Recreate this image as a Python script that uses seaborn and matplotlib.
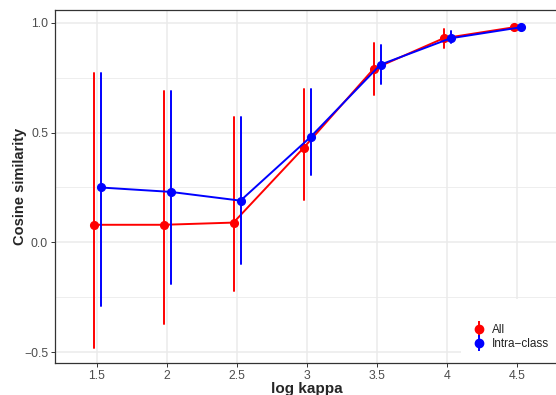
import numpy as np
import pandas as pd
import matplotlib
matplotlib.use("Agg")
import matplotlib.pyplot as plt
import seaborn as sns
from matplotlib.lines import Line2D
from matplotlib.ticker import FixedLocator, FuncFormatter

# values
kappa = ["1.5", "2", "2.5", "3", "3.5", "4", "4.5"]
groups = ["All", "Intra\u2212class"]

all_mean = [0.08, 0.08, 0.09, 0.43, 0.79, 0.93, 0.98]
all_low = [-0.48, -0.37, -0.22, 0.195, 0.67, 0.885, 0.975]
all_high = [0.77, 0.69, 0.57, 0.70, 0.91, 0.972, 0.985]

intra_mean = [0.25, 0.23, 0.19, 0.48, 0.81, 0.93, 0.98]
intra_low = [-0.29, -0.19, -0.10, 0.305, 0.72, 0.908, 0.975]
intra_high = [0.77, 0.69, 0.57, 0.70, 0.90, 0.965, 0.985]

colors = {"All": "#FF0000", "Intra\u2212class": "#0000FF"}

# long table: low / mean / high per point, median picks the mean,
# min-max gives the interval
rows = []
for g, lo, mid, hi in [(groups[0], all_low, all_mean, all_high),
                       (groups[1], intra_low, intra_mean, intra_high)]:
    for k, a, b, c in zip(kappa, lo, mid, hi):
        for v in (a, b, c):
            rows.append({"kappa": k, "group": g, "value": v})
df = pd.DataFrame(rows)

sns.set_style("white")
plt.rcParams["font.family"] = ["Liberation Sans", "DejaVu Sans"]

fig = plt.figure(figsize=(5.56, 3.95), dpi=100)
ax = fig.add_axes([55 / 556, 32 / 395, 504 / 556, 353 / 395])

sns.pointplot(data=df, x="kappa", y="value", hue="group", order=kappa,
              hue_order=groups, palette=colors, estimator=np.median,
              errorbar=lambda v: (v.min(), v.max()), dodge=0.1,
              markers="o", markersize=5.5, linewidth=1.4,
              err_kws={"linewidth": 1.4}, legend=False, ax=ax)

ax.set_xlim(-0.6, 6.6)
ax.set_ylim(-0.55, 1.059)
ax.yaxis.set_major_locator(FixedLocator([-0.5, 0.0, 0.5, 1.0]))
ax.yaxis.set_minor_locator(FixedLocator([-0.25, 0.25, 0.75]))
ax.yaxis.set_major_formatter(FuncFormatter(lambda v, p: f"{v:.1f}".replace("-", "\u2212")))

ax.grid(True, which="major", color="#EBEBEB", linewidth=1.1)
ax.grid(True, which="minor", axis="y", color="#EBEBEB", linewidth=0.6)
ax.set_axisbelow(True)

for s in ax.spines.values():
    s.set_color("#333333")
    s.set_linewidth(0.9)

ax.tick_params(axis="both", which="major", direction="out", length=3, width=0.7,
               color="#333333", labelcolor="#4D4D4D", labelsize=8.8, pad=2,
               left=True, bottom=True)
ax.tick_params(axis="y", which="minor", length=0)

ax.set_xlabel("log kappa", fontsize=11, fontweight="bold", labelpad=0)
ax.set_ylabel("Cosine similarity", fontsize=10.5, fontweight="bold", labelpad=-2)

handles = []
for g in groups:
    bar = Line2D([], [], color=colors[g], marker="|", markersize=11, markeredgewidth=1.4, linestyle="none")
    dot = Line2D([], [], color=colors[g], marker="o", markersize=6, linestyle="none")
    handles.append((bar, dot))
leg = ax.legend(handles, groups, title=" ", loc="lower right", bbox_to_anchor=(1.004, 0.003),
                borderaxespad=0, frameon=True, facecolor="white", edgecolor="none",
                framealpha=1, fontsize=8.5, title_fontsize=8.5, handlelength=1.0,
                handletextpad=0.6, labelspacing=0.15, borderpad=1.0)
for t in leg.get_texts():
    t.set_color("#222222")

fig.savefig("out.png", dpi=100)
